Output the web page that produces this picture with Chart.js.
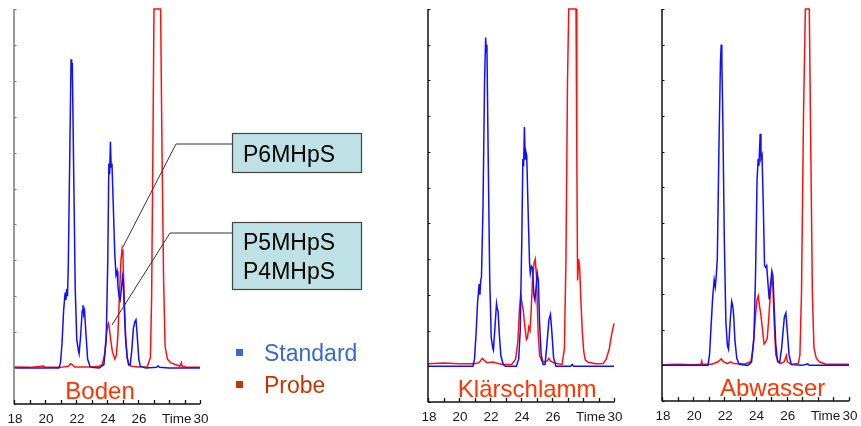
<!DOCTYPE html>
<html>
<head>
<meta charset="utf-8">
<script src="https://cdn.jsdelivr.net/npm/chart.js@4.4.1/dist/chart.umd.min.js"></script>
<style>
  body { margin: 0; background: #fff; }
  #wrap { position: relative; width: 861px; height: 426px; overflow: hidden; }
  canvas { position: absolute; top: 0; }
</style>
</head>
<body>
<div id="wrap">
  <canvas id="c1" width="400" height="426" style="left:0"></canvas>
  <canvas id="c2" width="230" height="426" style="left:410px"></canvas>
  <canvas id="c3" width="221" height="426" style="left:640px"></canvas>
</div>
<script>
// Chromatograms: retention time (min) vs. detector signal (arbitrary units)
const panelTitles = ['Boden', 'Klärschlamm', 'Abwasser'];
const seriesNames = ['Standard', 'Probe'];
const tickValues = [18, 20, 22, 24, 26, 30];
const tickLabels = ['18', '20', '22', '24', '26', '30'];
const timeLabel = 'Time';
const boxLabels = [['P6MHpS'], ['P5MHpS', 'P4MHpS']];

const bodenStandard = [[18,0],[20.9,0],[21.0,0.15],[21.1,0.7],[21.2,1.6],[21.3,2.1],[21.35,1.9],[21.4,2.2],[21.45,2.0],[21.5,2.8],[21.6,6.0],[21.68,8.6],[21.72,8.3],[21.76,8.5],[21.85,5.5],[21.95,2.2],[22.05,0.8],[22.15,0.5],[22.2,0.4],[22.3,0.9],[22.4,1.6],[22.45,1.75],[22.5,1.5],[22.55,1.6],[22.65,0.9],[22.75,0.25],[22.9,0.05],[23.0,0.02],[23.5,0.0],[23.8,0.1],[23.95,0.8],[24.05,3.0],[24.12,5.7],[24.17,5.4],[24.22,6.3],[24.27,5.6],[24.32,5.7],[24.4,4.6],[24.5,3.2],[24.58,2.6],[24.65,2.7],[24.7,2.3],[24.78,2.0],[24.85,1.9],[24.93,2.2],[25.0,2.55],[25.05,2.4],[25.12,1.6],[25.2,0.8],[25.3,0.3],[25.4,0.1],[25.5,0.1],[25.6,0.5],[25.7,1.1],[25.8,1.3],[25.87,1.35],[25.95,0.9],[26.05,0.25],[26.15,0.05],[26.5,0.0],[27.2,0.02],[27.3,0.06],[27.4,0.02],[28,0.0],[30,0.0]];
const bodenProbe = [[18,0.03],[19,0.02],[19.9,0.06],[20,0.02],[21,0.02],[21.5,0.05],[21.65,0.12],[21.75,0.1],[21.9,0.03],[23.0,0.03],[23.5,0.05],[23.7,0.1],[23.85,0.4],[23.95,0.9],[24.05,1.2],[24.1,1.25],[24.15,1.1],[24.25,0.75],[24.35,0.45],[24.5,0.25],[24.6,0.35],[24.7,0.9],[24.8,2.0],[24.9,3.0],[24.97,3.3],[25.03,3.1],[25.1,2.1],[25.2,0.9],[25.3,0.3],[25.4,0.08],[25.6,0.05],[26.0,0.03],[26.6,0.04],[26.8,0.3],[26.88,2],[26.96,6],[27.03,10],[27.46,10],[27.55,6],[27.65,2.5],[27.75,0.6],[27.9,0.25],[28.1,0.15],[28.4,0.1],[28.7,0.05],[28.8,0.15],[28.85,0.05],[29.2,0.02],[30,0.02]];

const klaerStandard = [[18,0],[20.9,0],[21.0,0.2],[21.1,0.9],[21.2,1.8],[21.3,2.3],[21.35,2.0],[21.4,2.4],[21.45,2.5],[21.55,4.5],[21.65,8.0],[21.72,9.2],[21.76,8.8],[21.8,9.0],[21.88,6.0],[21.98,2.5],[22.08,0.8],[22.18,0.5],[22.22,0.45],[22.32,1.1],[22.42,1.75],[22.47,1.6],[22.52,1.55],[22.6,0.9],[22.7,0.3],[22.85,0.05],[23.0,0.0],[23.7,0.0],[23.85,0.2],[23.95,1.0],[24.05,3.5],[24.12,5.8],[24.17,5.6],[24.22,6.7],[24.27,5.8],[24.32,6.0],[24.37,5.9],[24.45,4.5],[24.55,2.9],[24.6,2.6],[24.68,2.8],[24.75,2.75],[24.83,2.0],[24.9,1.85],[24.97,2.2],[25.05,2.6],[25.12,2.4],[25.2,1.2],[25.3,0.35],[25.42,0.05],[25.55,0.05],[25.65,0.5],[25.8,1.3],[25.9,1.45],[26.0,0.9],[26.1,0.25],[26.25,0.0],[27.2,0.0],[27.3,0.05],[27.4,0.0],[30,0.0]];
const klaerProbe = [[18,0.07],[19,0.09],[20,0.07],[21.0,0.07],[21.3,0.1],[21.5,0.22],[21.6,0.18],[21.8,0.1],[22.2,0.12],[22.35,0.1],[22.8,0.05],[23.4,0.05],[23.65,0.2],[23.8,0.7],[23.9,1.6],[23.98,2.0],[24.05,1.8],[24.15,1.55],[24.25,1.1],[24.35,0.75],[24.42,0.8],[24.5,1.1],[24.58,1.0],[24.65,1.5],[24.75,2.5],[24.85,2.9],[24.92,3.0],[25.0,2.5],[25.1,1.0],[25.2,0.3],[25.35,0.15],[25.5,0.12],[25.7,0.15],[25.8,0.22],[25.9,0.15],[26.1,0.1],[26.4,0.07],[26.65,0.05],[26.8,0.5],[26.9,3],[27.0,8],[27.08,10],[27.55,10],[27.6,6],[27.65,2.4],[27.72,3.0],[27.78,2.8],[27.85,2.0],[27.95,1.0],[28.05,0.4],[28.15,0.18],[28.3,0.12],[28.8,0.07],[29.3,0.08],[29.5,0.2],[29.7,0.5],[29.85,0.9],[30,1.2]];

const abwStandard = [[18,0],[20.95,0],[21.05,0.3],[21.15,1.1],[21.25,1.9],[21.35,2.4],[21.42,2.2],[21.48,2.5],[21.55,3.0],[21.65,6.0],[21.75,8.5],[21.8,9.0],[21.84,8.6],[21.9,7.0],[22.0,3.5],[22.1,1.2],[22.2,0.55],[22.27,0.45],[22.37,1.2],[22.47,1.8],[22.53,1.7],[22.6,1.4],[22.68,0.7],[22.8,0.2],[22.95,0.03],[23.5,0.0],[23.75,0.1],[23.9,0.8],[24.0,2.5],[24.1,5.2],[24.17,5.8],[24.22,5.6],[24.3,6.5],[24.35,5.8],[24.42,5.9],[24.5,4.5],[24.58,2.8],[24.65,2.75],[24.72,2.8],[24.8,2.3],[24.88,1.85],[24.95,2.2],[25.05,2.65],[25.12,2.5],[25.2,1.6],[25.3,0.6],[25.42,0.1],[25.55,0.08],[25.68,0.5],[25.85,1.35],[25.95,1.47],[26.05,0.9],[26.15,0.3],[26.3,0.02],[27.0,0.0],[27.35,0.04],[27.45,0.0],[30,0.0]];
const abwProbe = [[18,0.02],[19,0.03],[20,0.02],[20.5,0.03],[20.55,0.12],[20.6,0.03],[21.2,0.03],[21.6,0.1],[21.8,0.18],[21.95,0.1],[22.2,0.05],[22.4,0.1],[22.6,0.05],[23.3,0.04],[23.7,0.1],[23.85,0.5],[24.0,1.4],[24.1,1.85],[24.18,1.95],[24.25,1.7],[24.35,1.4],[24.45,1.0],[24.55,0.6],[24.65,0.65],[24.75,0.75],[24.85,1.3],[24.95,2.0],[25.05,2.5],[25.12,2.2],[25.2,1.2],[25.3,0.3],[25.45,0.1],[25.6,0.05],[25.85,0.1],[25.98,0.28],[26.05,0.1],[26.3,0.03],[26.75,0.05],[26.85,0.3],[26.95,2],[27.08,7],[27.2,10],[27.45,10],[27.55,6],[27.65,2],[27.75,0.5],[27.9,0.2],[28.1,0.1],[28.5,0.03],[30,0.03]];

// leader line anchors on the Boden probe trace [time, signal]
const leaderAnchors = [[25.0, 3.35], [24.32, 1.2]];

const FONT = '"Liberation Sans", Arial, sans-serif';
const colors = {
  blue: '#1010ff',
  red: '#ff1010',
  title: '#ff3300',
  legendBlue: '#3a68d8',
  legendRed: '#cc3300',
  box: '#bde1e4',
  axis: '#111'
};

const toXY = arr => arr.map(p => ({ x: p[0], y: p[1] }));

// axes, ticks, tick labels and the panel name
const chromAxes = {
  id: 'chromAxes',
  afterDatasetsDraw(chart, args, o) {
    const { ctx, chartArea: a, scales: { x, y } } = chart;
    ctx.save();
    // y ticks (tiny, inside)
    ctx.strokeStyle = o.yColor;
    ctx.lineWidth = 1;
    ctx.beginPath();
    for (let v = y.min; v <= y.max; v++) {
      const py = Math.round(y.getPixelForValue(v)) + 0.5;
      ctx.moveTo(a.left, py);
      ctx.lineTo(a.left + 2.5, py);
    }
    ctx.stroke();
    ctx.lineWidth = 1.5;
    ctx.beginPath();
    ctx.moveTo(a.left, a.top);
    ctx.lineTo(a.left, a.bottom);
    ctx.stroke();
    // x axis with upward ticks every minute
    ctx.strokeStyle = colors.axis;
    ctx.lineWidth = 1.3;
    ctx.beginPath();
    ctx.moveTo(a.left, a.bottom);
    ctx.lineTo(a.right, a.bottom);
    for (let t = x.min; t <= x.max; t++) {
      const px = Math.round(x.getPixelForValue(t)) + 0.5;
      ctx.moveTo(px, a.bottom);
      ctx.lineTo(px, a.bottom - 4);
    }
    ctx.stroke();
    ctx.fillStyle = '#1a1a1a';
    ctx.font = '13.5px ' + FONT;
    ctx.textAlign = 'center';
    ctx.textBaseline = 'alphabetic';
    tickValues.forEach((t, i) => {
      ctx.fillText(tickLabels[i], x.getPixelForValue(t) + 1, a.bottom + 19);
    });
    ctx.fillText(timeLabel, x.getPixelForValue(28.5), a.bottom + 19);
    // panel name
    ctx.fillStyle = colors.title;
    ctx.font = '24px ' + FONT;
    ctx.fillText(o.title, x.getPixelForValue(o.titleAt), a.bottom - 5);
    ctx.restore();
  }
};

// peak labels + legend, only on the first panel
const bodenNotes = {
  id: 'bodenNotes',
  afterDraw(chart) {
    const { ctx, scales: { x, y } } = chart;
    ctx.save();
    const boxes = [{ top: 133, h: 39, lines: boxLabels[0], base: [162] },
                   { top: 222, h: 67, lines: boxLabels[1], base: [250, 279] }];
    const elbows = [[176, 144], [170, 233]];
    ctx.strokeStyle = '#333';
    ctx.lineWidth = 1;
    leaderAnchors.forEach((p, i) => {
      ctx.beginPath();
      ctx.moveTo(x.getPixelForValue(p[0]), y.getPixelForValue(p[1]));
      ctx.lineTo(elbows[i][0], elbows[i][1]);
      ctx.lineTo(232, elbows[i][1]);
      ctx.stroke();
    });
    boxes.forEach(b => {
      ctx.fillStyle = colors.box;
      ctx.fillRect(232.5, b.top + 0.5, 129, b.h);
      ctx.strokeStyle = '#444';
      ctx.lineWidth = 1.2;
      ctx.strokeRect(232.5, b.top + 0.5, 129, b.h);
      ctx.fillStyle = '#000';
      ctx.font = '23px ' + FONT;
      ctx.textAlign = 'left';
      ctx.textBaseline = 'alphabetic';
      b.lines.forEach((s, i) => ctx.fillText(s, 243, b.base[i]));
    });
    // legend
    ctx.font = '23px ' + FONT;
    ctx.fillStyle = colors.legendBlue;
    ctx.fillRect(236, 349, 7, 7);
    ctx.fillText(seriesNames[0], 264, 361);
    ctx.fillStyle = colors.legendRed;
    ctx.fillRect(236, 381, 7, 7);
    ctx.fillText(seriesNames[1], 264, 393);
    ctx.restore();
  }
};

function makePanel(id, std, probe, title, titleAt, padding, yColor, extra) {
  new Chart(document.getElementById(id), {
    type: 'line',
    data: {
      datasets: [
        { label: seriesNames[0], data: toXY(std), borderColor: colors.blue, borderWidth: 1.5, pointRadius: 0, tension: 0, clip: 3 },
        { label: seriesNames[1], data: toXY(probe), borderColor: colors.red, borderWidth: 1.5, pointRadius: 0, tension: 0, clip: 3 }
      ]
    },
    options: {
      responsive: false,
      animation: false,
      devicePixelRatio: 1,
      layout: { padding },
      plugins: {
        legend: { display: false },
        tooltip: { enabled: false },
        chromAxes: { title, titleAt, yColor }
      },
      scales: {
        x: { type: 'linear', min: 18, max: 30, display: false },
        y: { min: -1, max: 10, display: false }
      }
    },
    plugins: extra ? [chromAxes, extra] : [chromAxes]
  });
}

makePanel('c1', bodenStandard, bodenProbe, panelTitles[0], 23.55,
  { left: 14, right: 200, top: 9, bottom: 22 }, '#777', bodenNotes);
makePanel('c2', klaerStandard, klaerProbe, panelTitles[1], 24.4,
  { left: 18, right: 26, top: 9, bottom: 24 }, '#111');
makePanel('c3', abwStandard, abwProbe, panelTitles[2], 25.1,
  { left: 22, right: 12, top: 9, bottom: 25 }, '#111');
</script>
</body>
</html>
